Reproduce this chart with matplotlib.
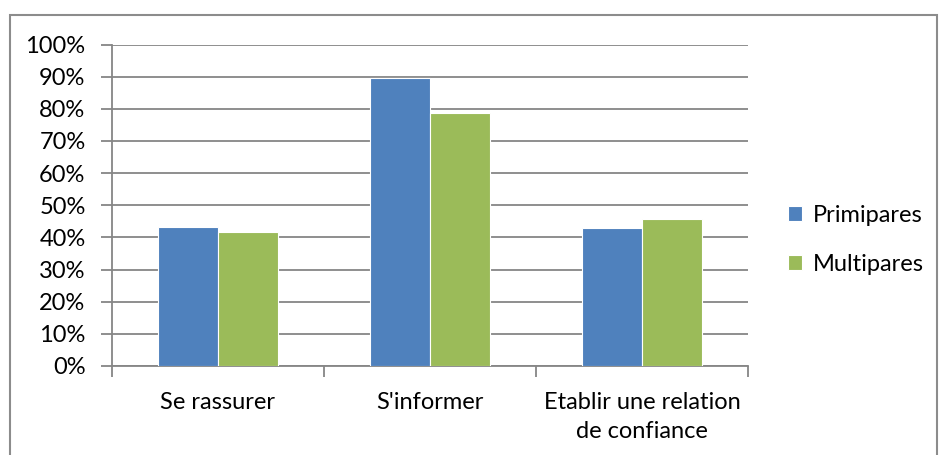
import matplotlib
matplotlib.use("Agg")
import matplotlib.pyplot as plt
import numpy as np
from matplotlib.patches import Rectangle
from matplotlib.ticker import PercentFormatter

categories = ["Se rassurer", "S'informer", "Etablir une relation\nde confiance"]
primipares = [43.1, 89.5, 43.0]
multipares = [41.8, 78.6, 45.6]
series_names = ["Primipares", "Multipares"]

plt.rcParams["font.family"] = ["Lato", "DejaVu Sans"]
plt.rcParams["font.size"] = 17

fig = plt.figure(figsize=(9.41, 4.55), dpi=100)
ax = fig.add_axes([112 / 941, 1 - 366 / 455, (748 - 112) / 941, (366 - 44.5) / 455])

# outer gray frame like the excel chart area
fig.patches.append(Rectangle((10 / 941, -0.1), (937 - 10) / 941, 1.1 - 15 / 455,
                             transform=fig.transFigure, fill=False,
                             edgecolor="#8c8c8c", linewidth=1.5))

x = np.arange(len(categories))
w = 0.283
ax.bar(x - w / 2, primipares, w, color="#4F81BD", edgecolor="white", linewidth=0.8,
       label=series_names[0], zorder=3)
ax.bar(x + w / 2, multipares, w, color="#9BBB59", edgecolor="white", linewidth=0.8,
       label=series_names[1], zorder=3)

ax.set_xlim(-0.5, 2.5)
ax.set_ylim(0, 100)
ax.set_yticks(np.arange(0, 101, 10))
ax.yaxis.set_major_formatter(PercentFormatter(decimals=0))
ax.grid(axis="y", color="#868686", linewidth=1.3, zorder=0)

ax.set_xticks(x)
ax.set_xticklabels(categories, linespacing=1.45)
ax.set_xticks([-0.5, 0.5, 1.5, 2.5], minor=True)
ax.tick_params(axis="x", which="major", length=0, pad=19)
ax.tick_params(axis="x", which="minor", length=8, color="#868686", width=1.3)
ax.tick_params(axis="y", length=8, color="#868686", width=1.3, pad=11)

for s in ["top", "right"]:
    ax.spines[s].set_visible(False)
for s in ["left", "bottom"]:
    ax.spines[s].set_color("#868686")
    ax.spines[s].set_linewidth(1.3)

fig.legend(loc="center left", bbox_to_anchor=(788 / 941, 1 - 240 / 455), frameon=False,
           handlelength=0.6, handleheight=0.6, handletextpad=0.45,
           labelspacing=1.2, borderaxespad=0.0, borderpad=0.0)

fig.savefig("out.png", dpi=100)
